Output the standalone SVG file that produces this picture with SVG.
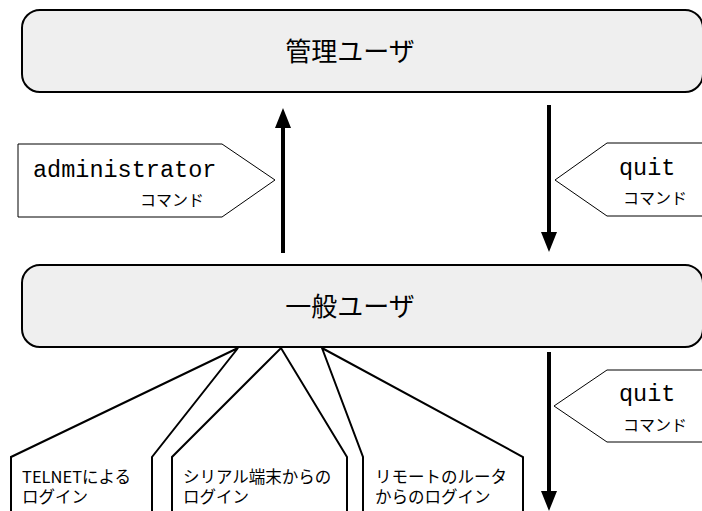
<svg xmlns="http://www.w3.org/2000/svg" width="702" height="511" viewBox="0 0 702 511">
<defs>
<style>
.box{fill:#efefef;stroke:#000;stroke-width:2}
.title{font-family:"Noto Sans CJK JP","Noto Sans",sans-serif;font-size:26px;font-weight:400;fill:#000;text-anchor:middle}
.tag{fill:#fff;stroke:#000;stroke-width:1}
.mono{font-family:"Liberation Mono",monospace;font-size:23.5px;fill:#000}
.cmd{font-family:"Noto Sans CJK JP",sans-serif;font-size:16px;font-weight:400;fill:#000}
.login{fill:#fff;stroke:#000;stroke-width:2;stroke-linejoin:miter}
.ltxt{font-family:"Noto Sans CJK JP","Noto Sans",sans-serif;font-size:16.5px;font-weight:400;fill:#000}
.arr{stroke:#000;stroke-width:4;fill:none}
.head{fill:#000}
</style>
</defs>
<g id="admin-user">
<rect class="box" x="22" y="10" width="681" height="82" rx="18"/>
<text class="title" x="350" y="61">管理ユーザ</text>
</g>
<g id="general-user">
<rect class="box" x="22" y="265" width="681" height="82" rx="18"/>
<text class="title" x="350" y="316">一般ユーザ</text>
</g>
<g id="connectors">
<line class="arr" x1="283" y1="253" x2="283" y2="124"/>
<path class="head" d="M275,128 L283,108 L291,128 Z"/>
<line class="arr" x1="549" y1="105" x2="549" y2="236"/>
<path class="head" d="M541,232 L549,252 L557,232 Z"/>
<line class="arr" x1="549" y1="352" x2="549" y2="494"/>
<path class="head" d="M541,491 L549,511 L557,491 Z"/>
</g>
<g id="admin-cmd">
<polygon class="tag" points="18,144 222,144 275,180 222,217 18,217"/>
<text class="mono" x="33" y="177">administrator</text>
<text class="cmd" x="140" y="206">コマンド</text>
</g>
<g id="quit-cmd-1">
<polygon class="tag" points="555,180 607,143 712,143 712,216 607,216"/>
<text class="mono" x="619" y="175">quit</text>
<text class="cmd" x="623" y="204">コマンド</text>
</g>
<g id="quit-cmd-2">
<polygon class="tag" points="554,406 607,370 712,370 712,442 607,442"/>
<text class="mono" x="619" y="401">quit</text>
<text class="cmd" x="623" y="431">コマンド</text>
</g>
<g id="login-telnet">
<polyline class="login" points="11,515 11,457 238,348 152,457 152,515"/>
<text class="ltxt" x="22" y="483">TELNETによる</text>
<text class="ltxt" x="22" y="503">ログイン</text>
</g>
<g id="login-serial">
<polyline class="login" points="172,515 172,457 281,348 347,457 347,515"/>
<text class="ltxt" x="183" y="483">シリアル端末からの</text>
<text class="ltxt" x="183" y="503">ログイン</text>
</g>
<g id="login-remote">
<polyline class="login" points="363,515 363,457 322,348 523,457 523,515"/>
<text class="ltxt" x="375" y="483">リモートのルータ</text>
<text class="ltxt" x="375" y="503">からのログイン</text>
</g>
</svg>
